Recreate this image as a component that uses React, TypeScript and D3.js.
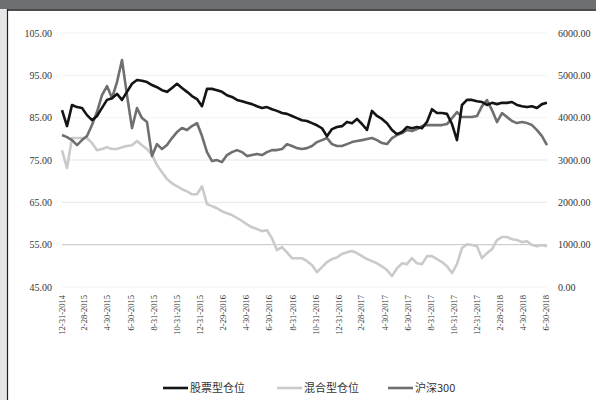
import React from "react";
import * as d3 from "d3";

const START_DATE = "2014-12-31";
const END_DATE = "2018-06-30";

const tickLabels = [
  "12-31-2014", "2-28-2015", "4-30-2015", "6-30-2015", "8-31-2015", "10-31-2015",
  "12-31-2015", "2-29-2016", "4-30-2016", "6-30-2016", "8-31-2016", "10-31-2016",
  "12-31-2016", "2-28-2017", "4-30-2017", "6-30-2017", "8-31-2017", "10-31-2017",
  "12-31-2017", "2-28-2018", "4-30-2018", "6-30-2018",
];

const leftTicks = [45, 55, 65, 75, 85, 95, 105];
const rightTicks = [0, 1000, 2000, 3000, 4000, 5000, 6000];

const seriesNames = ["股票型仓位", "混合型仓位", "沪深300"];

const stockPos = [
  86.8, 83.0, 88.0, 87.5, 87.3, 85.6, 84.4, 85.4, 87.3, 89.2,
  89.6, 90.6, 89.2, 91.1, 93.0, 93.9, 93.7, 93.4, 92.7, 92.2,
  91.5, 91.1, 92.0, 93.0, 92.0, 91.1, 90.1, 89.4, 87.7, 91.8,
  91.8, 91.5, 91.1, 90.3, 89.9, 89.2, 88.9, 88.5, 88.2, 87.7,
  87.3, 87.5, 87.0, 86.6, 86.1, 85.9, 85.4, 84.9, 84.4, 84.2,
  83.7, 83.2, 82.5, 80.6, 82.3, 82.8, 83.0, 84.0, 83.7, 84.7,
  83.5, 82.1, 86.6, 85.4, 84.7, 83.7, 82.1, 81.1, 81.6, 82.8,
  82.5, 82.8, 82.5, 84.0, 87.0, 86.1, 86.1, 85.9, 83.5, 79.7,
  88.0, 89.2, 89.2, 88.9, 88.7, 88.0, 88.5, 88.2, 88.5, 88.5,
  88.7, 88.0, 87.7, 87.5, 87.7, 87.3, 88.2, 88.5,
];

const mixedPos = [
  77.3, 73.1, 80.2, 80.2, 80.2, 80.2, 79.0, 77.3, 77.6, 78.0,
  77.6, 77.6, 78.0, 78.3, 78.5, 79.5, 78.5, 77.6, 76.2, 73.8,
  72.1, 70.5, 69.5, 68.8, 68.1, 67.6, 66.9, 66.9, 68.8, 64.6,
  64.1, 63.6, 62.9, 62.4, 62.0, 61.3, 60.6, 59.8, 59.1, 58.7,
  58.2, 58.4, 56.5, 53.7, 54.4, 53.2, 51.8, 51.8, 51.8, 51.1,
  50.2, 48.5, 49.7, 50.9, 51.6, 52.0, 52.8, 53.2, 53.5, 53.0,
  52.3, 51.6, 51.1, 50.6, 49.9, 49.0, 47.6, 49.4, 50.6, 50.4,
  51.8, 50.6, 50.4, 52.3, 52.3, 51.6, 50.9, 49.9, 48.3, 50.4,
  54.2, 55.1, 54.9, 54.6, 51.8, 53.0, 53.9, 56.1, 56.8, 56.8,
  56.3, 56.1, 55.6, 55.8, 54.9, 54.6, 54.9, 54.6,
];

const hs300 = [
  3589, 3541, 3470, 3352, 3470, 3565, 3825, 4132, 4534, 4747,
  4463, 4842, 5362, 4534, 3754, 4227, 3991, 3896, 3092, 3376,
  3258, 3352, 3518, 3660, 3754, 3707, 3801, 3872, 3565, 3187,
  2974, 2998, 2950, 3116, 3187, 3234, 3187, 3092, 3116, 3140,
  3116, 3187, 3234, 3234, 3258, 3376, 3329, 3281, 3258, 3281,
  3329, 3423, 3470, 3518, 3376, 3329, 3329, 3376, 3423, 3447,
  3470, 3494, 3518, 3470, 3400, 3376, 3518, 3589, 3636, 3707,
  3683, 3730, 3801, 3825, 3825, 3825, 3825, 3849, 3991, 4132,
  4014, 4014, 4014, 4038, 4274, 4416, 4180, 3896, 4109, 4014,
  3920, 3872, 3896, 3872, 3825, 3707, 3565, 3352,
];

const W = 596;
const H = 400;
const plotLeft = 62;
const plotRight = 547;
const plotTop = 33;
const plotBottom = 287;

export default function App() {
  const start = new Date(START_DATE + "T00:00:00");
  const end = new Date(END_DATE + "T00:00:00");
  const n = stockPos.length;
  const span = end.getTime() - start.getTime();
  const dates = stockPos.map((_, i) => new Date(start.getTime() + (i * span * 1.002) / (n - 1)));
  const tickDates = tickLabels.map((s) => {
    const [m, d, y] = s.split("-").map(Number);
    return new Date(y, m - 1, d);
  });

  const x = d3.scaleTime().domain([start, end]).range([plotLeft, 546]);
  const yL = d3.scaleLinear().domain([45, 105]).range([plotBottom, plotTop]);
  const yR = d3.scaleLinear().domain([0, 6000]).range([plotBottom, plotTop]);

  const lineL = d3
    .line<number>()
    .x((_, i) => x(dates[i]))
    .y((v) => yL(v))
    .curve(d3.curveLinear);
  const lineR = d3
    .line<number>()
    .x((_, i) => x(dates[i]))
    .y((v) => yR(v))
    .curve(d3.curveLinear);

  const colors = ["#141414", "#cacaca", "#6f6f6f"];
  const legendX = [163, 277, 388];
  const legendY = 388;

  const tickFont = "'Liberation Serif', 'DejaVu Serif', serif";

  return (
    <svg
      width={W}
      height={H}
      style={{ position: "absolute", left: 0, top: 0, background: "#fff" }}
      xmlns="http://www.w3.org/2000/svg"
    >
      <rect x={0} y={0} width={W} height={H} fill="#fff" />
      <rect x={0} y={0} width={W} height={9} fill="#6e6f73" />
      <rect x={0} y={9} width={7} height={H - 9} fill="#e5e6e8" />
      <line x1={7} x2={W} y1={10} y2={10} stroke="#111" strokeWidth={1.5} />
      <line x1={7.5} x2={7.5} y1={9} y2={H} stroke="#222" strokeWidth={1.2} />

      {leftTicks.map((t) => (
        <line
          key={"g" + t}
          x1={plotLeft}
          x2={plotRight}
          y1={yL(t)}
          y2={yL(t)}
          stroke={t === 55 ? "#c4c4c4" : t === 75 || t === 65 ? "#e6e6e6" : "#f3f3f3"}
          strokeWidth={1}
        />
      ))}

      {leftTicks.map((t) => (
        <text
          key={"l" + t}
          x={52}
          y={yL(t)}
          dy="0.35em"
          textAnchor="end"
          fontFamily={tickFont}
          fontSize={10}
          fill="#333"
        >
          {t.toFixed(2)}
        </text>
      ))}
      {rightTicks.map((t) => (
        <text
          key={"r" + t}
          x={558}
          y={yR(t)}
          dy="0.35em"
          textAnchor="start"
          fontFamily={tickFont}
          fontSize={10}
          fill="#333"
        >
          {t.toFixed(2)}
        </text>
      ))}

      {tickDates.map((d, i) => (
        <text
          key={"x" + i}
          transform={`translate(${x(d) + 3},295) rotate(-90)`}
          textAnchor="end"
          fontFamily={tickFont}
          fontSize={8.5}
          fill="#333"
        >
          {tickLabels[i]}
        </text>
      ))}

      <path d={lineL(mixedPos) || ""} fill="none" stroke={colors[1]} strokeWidth={2.6} strokeLinejoin="round" />
      <path d={lineR(hs300) || ""} fill="none" stroke={colors[2]} strokeWidth={2.6} strokeLinejoin="round" />
      <path d={lineL(stockPos) || ""} fill="none" stroke={colors[0]} strokeWidth={2.6} strokeLinejoin="round" />

      {seriesNames.map((name, i) => (
        <g key={name}>
          <line
            x1={legendX[i]}
            x2={legendX[i] + 25}
            y1={legendY}
            y2={legendY}
            stroke={colors[i]}
            strokeWidth={2.6}
          />
          <text
            x={legendX[i] + 27}
            y={legendY}
            dy="0.35em"
            fontFamily="'Noto Sans CJK SC', sans-serif"
            fontSize={11}
            fill="#333"
          >
            {name}
          </text>
        </g>
      ))}
    </svg>
  );
}
